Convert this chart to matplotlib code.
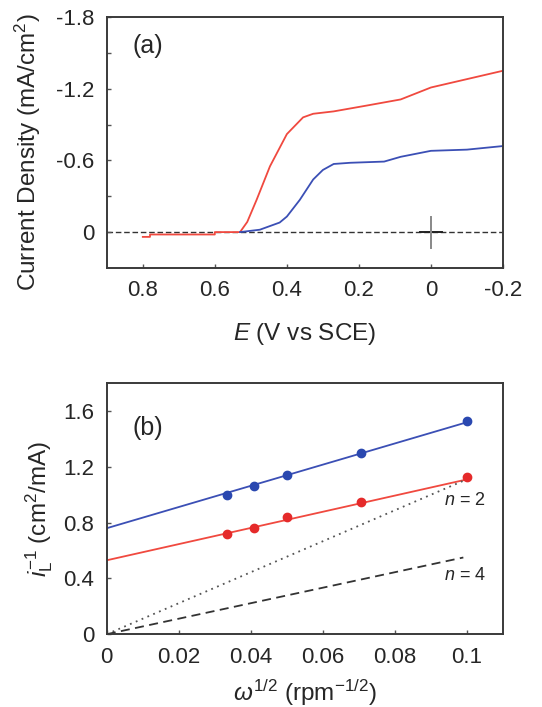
import matplotlib
matplotlib.use("Agg")
import matplotlib.pyplot as plt
import numpy as np

plt.rcParams['font.family'] = ['Liberation Sans', 'DejaVu Sans']
plt.rcParams['mathtext.fontset'] = 'custom'
plt.rcParams['mathtext.rm'] = 'Liberation Sans'
plt.rcParams['mathtext.it'] = 'Liberation Sans:italic'

TXT = "#262626"
RED = "#f0493f"
BLUE = "#3b4fb5"

# ---------------- (a) LSV data ----------------
E_red = [0.80, 0.78, 0.78, 0.60, 0.60, 0.53, 0.51, 0.484, 0.447, 0.40, 0.355, 0.327,
         0.27, 0.176, 0.084, 0.0, -0.10, -0.20]
j_red = [0.04, 0.04, 0.02, 0.02, 0.0, 0.0, -0.085, -0.27, -0.55, -0.82, -0.96, -0.99,
         -1.01, -1.06, -1.11, -1.21, -1.28, -1.35]
E_blue = [0.53, 0.475, 0.42, 0.40, 0.364, 0.327, 0.30, 0.27, 0.224, 0.13, 0.084, 0.0,
          -0.10, -0.20]
j_blue = [0.0, -0.02, -0.08, -0.13, -0.27, -0.44, -0.52, -0.57, -0.58, -0.59, -0.63,
          -0.68, -0.69, -0.72]

# ---------------- (b) Koutecky-Levich data ----------------
w_inv_sqrt = [0.0333, 0.0408, 0.05, 0.0707, 0.1]
iL_blue = [1.0, 1.065, 1.14, 1.30, 1.53]
iL_red = [0.72, 0.764, 0.84, 0.95, 1.127]
fit_x = [0.0, 0.1]
fit_blue = [0.76, 1.52]
fit_red = [0.53, 1.11]
theory_x = [0.0, 0.099]
theory_n2 = [0.0, 1.10]
theory_n4 = [0.0, 0.55]

fig = plt.figure(figsize=(5.42, 7.07), dpi=100)

def style_axes(ax):
    for s in ax.spines.values():
        s.set_color("#3a3a3a")
        s.set_linewidth(1.4)
    ax.tick_params(direction="in", length=3, width=1, color="#555555",
                   labelsize=16, labelcolor=TXT, pad=9)
    ax.tick_params(which="minor", direction="in", length=3, width=1, color="#555555")

# ---- panel (a)
ax1 = fig.add_axes([0.197, 0.621, 0.731, 0.355])
ax1.plot(E_red, j_red, color=RED, lw=1.3)
ax1.plot(E_blue, j_blue, color=BLUE, lw=1.3)
ax1.axhline(0, color="#333333", lw=1.0, ls=(0, (4, 2)), zorder=1)
ax1.plot([0.03, -0.03], [0, 0], color="#222222", lw=1.4)
ax1.plot([0, 0], [0.13, -0.13], color="#888888", lw=1.4)
ax1.set_xlim(0.9, -0.2)
ax1.set_ylim(0.3, -1.8)
ax1.set_xticks([0.8, 0.6, 0.4, 0.2, 0, -0.2])
ax1.set_xticklabels(["0.8", "0.6", "0.4", "0.2", "0", "-0.2"])
ax1.set_yticks([0, -0.6, -1.2, -1.8])
ax1.set_yticklabels(["0", "-0.6", "-1.2", "-1.8"])
ax1.set_yticks([-0.3, -0.9, -1.5], minor=True)
style_axes(ax1)
ax1.set_xlabel("$\\it{E}$ (V vs SCE)", fontsize=17.5, color=TXT, labelpad=14)
ax1.set_ylabel("Current Density (mA/cm$^2$)", fontsize=17.5, color=TXT, labelpad=10)
ax1.yaxis.set_label_coords(-0.16, 0.46)
ax1.text(0.065, 0.855, "(a)", transform=ax1.transAxes, fontsize=18, color=TXT)

# ---- panel (b)
ax2 = fig.add_axes([0.197, 0.103, 0.731, 0.355])
ax2.plot(fit_x, fit_blue, color=BLUE, lw=1.3)
ax2.plot(fit_x, fit_red, color=RED, lw=1.3)
ax2.plot(w_inv_sqrt, iL_blue, "o", color="#2a48b0", ms=6)
ax2.plot(w_inv_sqrt, iL_red, "o", color="#e52a2a", ms=6)
ax2.plot(theory_x, theory_n2, color="#555555", lw=1.3, ls=(0, (1, 2.5)))
ax2.plot(theory_x, theory_n4, color="#333333", lw=1.3, ls=(0, (5, 3)))
ax2.text(0.0935, 0.93, "$\\it{n}$ = 2", fontsize=13, color=TXT)
ax2.text(0.0935, 0.39, "$\\it{n}$ = 4", fontsize=13, color=TXT)
ax2.set_xlim(0, 0.11)
ax2.set_ylim(0, 1.8)
ax2.set_xticks([0, 0.02, 0.04, 0.06, 0.08, 0.1])
ax2.set_xticklabels(["0", "0.02", "0.04", "0.06", "0.08", "0.1"])
ax2.set_yticks([0, 0.4, 0.8, 1.2, 1.6])
ax2.set_yticklabels(["0", "0.4", "0.8", "1.2", "1.6"])
style_axes(ax2)
ax2.set_xlabel("$\\it{\\omega}^{1/2}$ (rpm$^{-1/2}$)", fontsize=17.5, color=TXT, labelpad=7)
ax2.set_ylabel("$\\it{i}_\\mathrm{L}^{-1}$ (cm$^2$/mA)", fontsize=17.5, color=TXT, labelpad=6)
ax2.text(0.065, 0.795, "(b)", transform=ax2.transAxes, fontsize=18, color=TXT)

fig.savefig("out.png", dpi=100)
